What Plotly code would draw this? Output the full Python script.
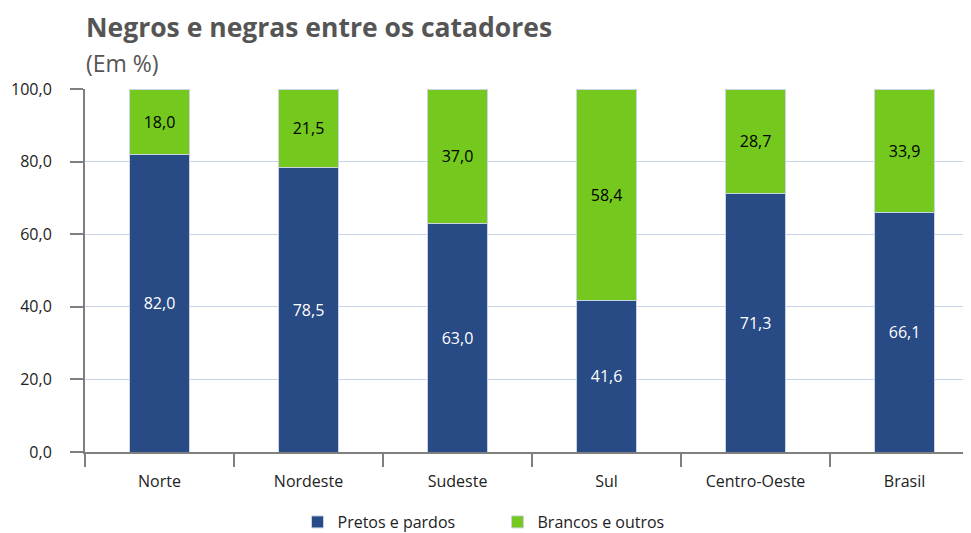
import plotly.graph_objects as go

categories = ["Norte", "Nordeste", "Sudeste", "Sul", "Centro-Oeste", "Brasil"]
pretos_pardos = [82.0, 78.5, 63.0, 41.6, 71.3, 66.1]
brancos_outros = [18.0, 21.5, 37.0, 58.4, 28.7, 33.9]
y_ticks = [0, 20, 40, 60, 80, 100]

xs = list(range(len(categories)))

def fmt(v):
    return f"{v:.1f}".replace(".", ",")

fig = go.Figure()
fig.add_trace(go.Bar(
    x=xs, y=pretos_pardos, name="Pretos e pardos",
    marker=dict(color="#284a85", line=dict(color="#c9d3e3", width=1)),
    width=0.4, text=[fmt(v) for v in pretos_pardos],
    textposition="inside", insidetextanchor="middle",
    textfont=dict(color="white", size=16, family="Open Sans"),
))
fig.add_trace(go.Bar(
    x=xs, y=brancos_outros, name="Brancos e outros",
    marker=dict(color="#74c81e", line=dict(color="#c9d3e3", width=1)),
    width=0.4, text=[fmt(v) for v in brancos_outros],
    textposition="inside", insidetextanchor="middle",
    textfont=dict(color="black", size=16, family="Open Sans"),
))

W, H = 963, 525
fig.update_layout(
    barmode="stack",
    width=W, height=H,
    margin=dict(l=77, r=0, t=81, b=81),
    plot_bgcolor="white", paper_bgcolor="white",
    font=dict(family="Open Sans", size=16, color="#333333"),
    separators=",.",
    showlegend=True,
    legend=dict(orientation="h", xref="container", yref="container",
                x=0.5 + 8 / W, xanchor="center", y=1 - 514 / H, yanchor="middle",
                font=dict(size=16, color="#222222"), traceorder="normal",
                itemwidth=30, entrywidthmode="pixels", entrywidth=155),
    xaxis=dict(
        range=[-0.5, 5.446], tickvals=xs, ticktext=categories,
        ticks="outside", ticklen=14, tickcolor="rgba(0,0,0,0)",
        showgrid=False, zeroline=False, automargin=False,
        showline=True, linecolor="#7f7f7f", linewidth=2,
        tickfont=dict(size=16, color="#222222"),
        minor=dict(tick0=-0.5, dtick=1, ticks="outside", ticklen=13,
                   tickcolor="#7f7f7f", tickwidth=2, showgrid=False),
    ),
    yaxis=dict(
        range=[0, 100], tickvals=y_ticks, tickformat=".1f",
        ticks="outside", ticklen=13, tickcolor="#7f7f7f", tickwidth=2,
        ticklabelstandoff=15,
        showline=True, linecolor="#7f7f7f", linewidth=2, automargin=False,
        showgrid=True, gridcolor="#c8d3e8", gridwidth=1, zeroline=False,
        tickfont=dict(size=16, color="#222222"),
    ),
    annotations=[
        dict(text="<b>Negros e negras entre os catadores</b>", xref="paper", yref="paper",
             x=0, y=1, xshift=-1, yshift=62, xanchor="left", yanchor="middle", showarrow=False,
             font=dict(size=26.5, color="#555555", family="Open Sans")),
        dict(text="(Em %)", xref="paper", yref="paper",
             x=0, y=1, xshift=-1, yshift=26, xanchor="left", yanchor="middle", showarrow=False,
             font=dict(size=23, color="#555555", family="Open Sans")),
    ],
)

fig.write_html("out.html")
